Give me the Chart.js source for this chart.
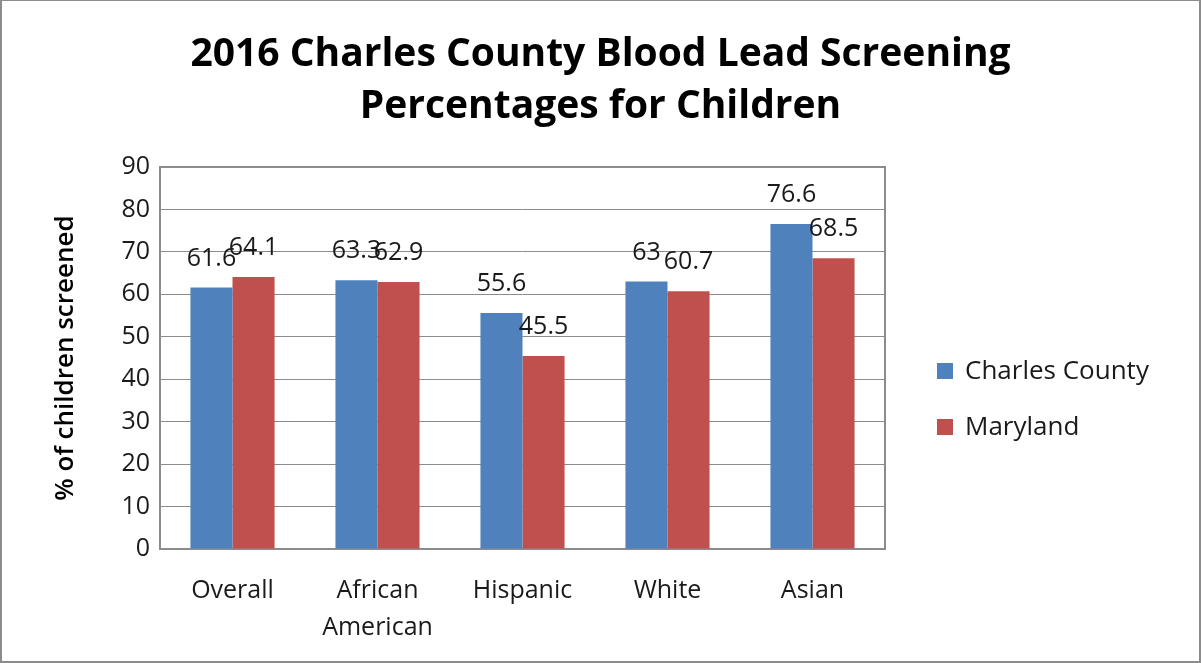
<!DOCTYPE html>
<html>
<head>
<meta charset="utf-8">
<script src="https://cdn.jsdelivr.net/npm/chart.js@4"></script>
<style>
  html, body { margin: 0; padding: 0; background: #fff; }
  #wrap { position: relative; width: 1201px; height: 663px; box-sizing: border-box; border: 2px solid #8c8c8c; border-top-width: 1px; }
  canvas { display: block; }
</style>
</head>
<body>
<div id="wrap"><canvas id="c" width="1197" height="660"></canvas></div>
<script>
const categories = ['Overall', ['African', 'American'], 'Hispanic', 'White', 'Asian'];
const charlesCounty = [61.6, 63.3, 55.6, 63, 76.6];
const maryland = [64.1, 62.9, 45.5, 60.7, 68.5];
const yTicks = [0, 10, 20, 30, 40, 50, 60, 70, 80, 90];
const titleLines = ['2016 Charles County Blood Lead Screening', 'Percentages for Children'];

const FONT = '"Open Sans", Lato, sans-serif';
const TEXT = '#1a1a1a';

// value labels drawn above each bar, like Excel "outside end"
const valueLabels = {
    id: 'valueLabels',
    afterDatasetsDraw(chart) {
        const ctx = chart.ctx;
        ctx.save();
        ctx.font = '25px ' + FONT;
        ctx.fillStyle = TEXT;
        ctx.textAlign = 'center';
        ctx.textBaseline = 'alphabetic';
        chart.data.datasets.forEach((ds, i) => {
            chart.getDatasetMeta(i).data.forEach((bar, j) => {
                ctx.fillText(String(ds.data[j]), bar.x, bar.y - 22);
            });
        });
        ctx.restore();
    }
};

// gray box round the plot area
const plotBox = {
    id: 'plotBox',
    beforeDatasetsDraw(chart) {
        const a = chart.chartArea;
        const ctx = chart.ctx;
        ctx.save();
        ctx.strokeStyle = '#8c8c8c';
        ctx.lineWidth = 2;
        ctx.strokeRect(a.left, a.top, a.right - a.left, a.bottom - a.top);
        ctx.restore();
    }
};

// title centred on the whole canvas, not just the plot
const wideTitle = {
    id: 'wideTitle',
    afterDraw(chart) {
        const ctx = chart.ctx;
        ctx.save();
        ctx.font = 'bold 39px ' + FONT;
        ctx.fillStyle = '#000';
        ctx.textAlign = 'center';
        ctx.textBaseline = 'alphabetic';
        titleLines.forEach((t, i) => {
            ctx.fillText(t, chart.width / 2, 65 + i * 52);
        });
        ctx.restore();
    }
};

// legend to the right of the plot, built from the datasets
const sideLegend = {
    id: 'sideLegend',
    afterDraw(chart) {
        const a = chart.chartArea;
        const ctx = chart.ctx;
        const x = a.right + 52;
        const step = 56;
        const n = chart.data.datasets.length;
        const y0 = (a.top + a.bottom) / 2 + 41 - (n - 1) * step / 2;
        ctx.save();
        ctx.font = '26px ' + FONT;
        ctx.textBaseline = 'middle';
        ctx.textAlign = 'left';
        chart.data.datasets.forEach((ds, i) => {
            const y = y0 + i * step;
            ctx.fillStyle = ds.backgroundColor;
            ctx.fillRect(x, y - 8, 16, 16);
            ctx.fillStyle = TEXT;
            ctx.fillText(ds.label, x + 28, y + 1);
        });
        ctx.restore();
    }
};

new Chart(document.getElementById('c').getContext('2d'), {
    type: 'bar',
    data: {
        labels: categories,
        datasets: [
            { label: 'Charles County', data: charlesCounty, backgroundColor: '#4F81BD' },
            { label: 'Maryland', data: maryland, backgroundColor: '#C0504D' }
        ]
    },
    options: {
        responsive: false,
        animation: false,
        layout: { padding: { left: 0, right: 314, top: 166, bottom: 0 } },
        datasets: { bar: { categoryPercentage: 0.58, barPercentage: 1.0 } },
        plugins: {
            title: { display: false },
            legend: { display: false },
            tooltip: { enabled: false }
        },
        scales: {
            x: {
                grid: { display: false },
                border: { display: false },
                afterFit: (axis) => { axis.height = 112; },
                ticks: {
                    color: TEXT,
                    font: { family: FONT, size: 25, lineHeight: 1.45 },
                    padding: 16,
                    maxRotation: 0,
                    autoSkip: false
                }
            },
            y: {
                min: 0,
                max: 90,
                afterBuildTicks: (axis) => { axis.ticks = yTicks.map(v => ({ value: v })); },
                afterFit: (axis) => { axis.width = 158; },
                grid: { color: '#8c8c8c', lineWidth: 1, drawTicks: false },
                border: { display: false },
                ticks: {
                    color: TEXT,
                    font: { family: FONT, size: 25 },
                    padding: 10
                },
                title: {
                    display: true,
                    text: '% of children screened',
                    color: '#000',
                    font: { family: FONT, size: 26, weight: '600' },
                    padding: { top: 48, bottom: 0 }
                }
            }
        }
    },
    plugins: [valueLabels, plotBox, wideTitle, sideLegend]
});
</script>
</body>
</html>
